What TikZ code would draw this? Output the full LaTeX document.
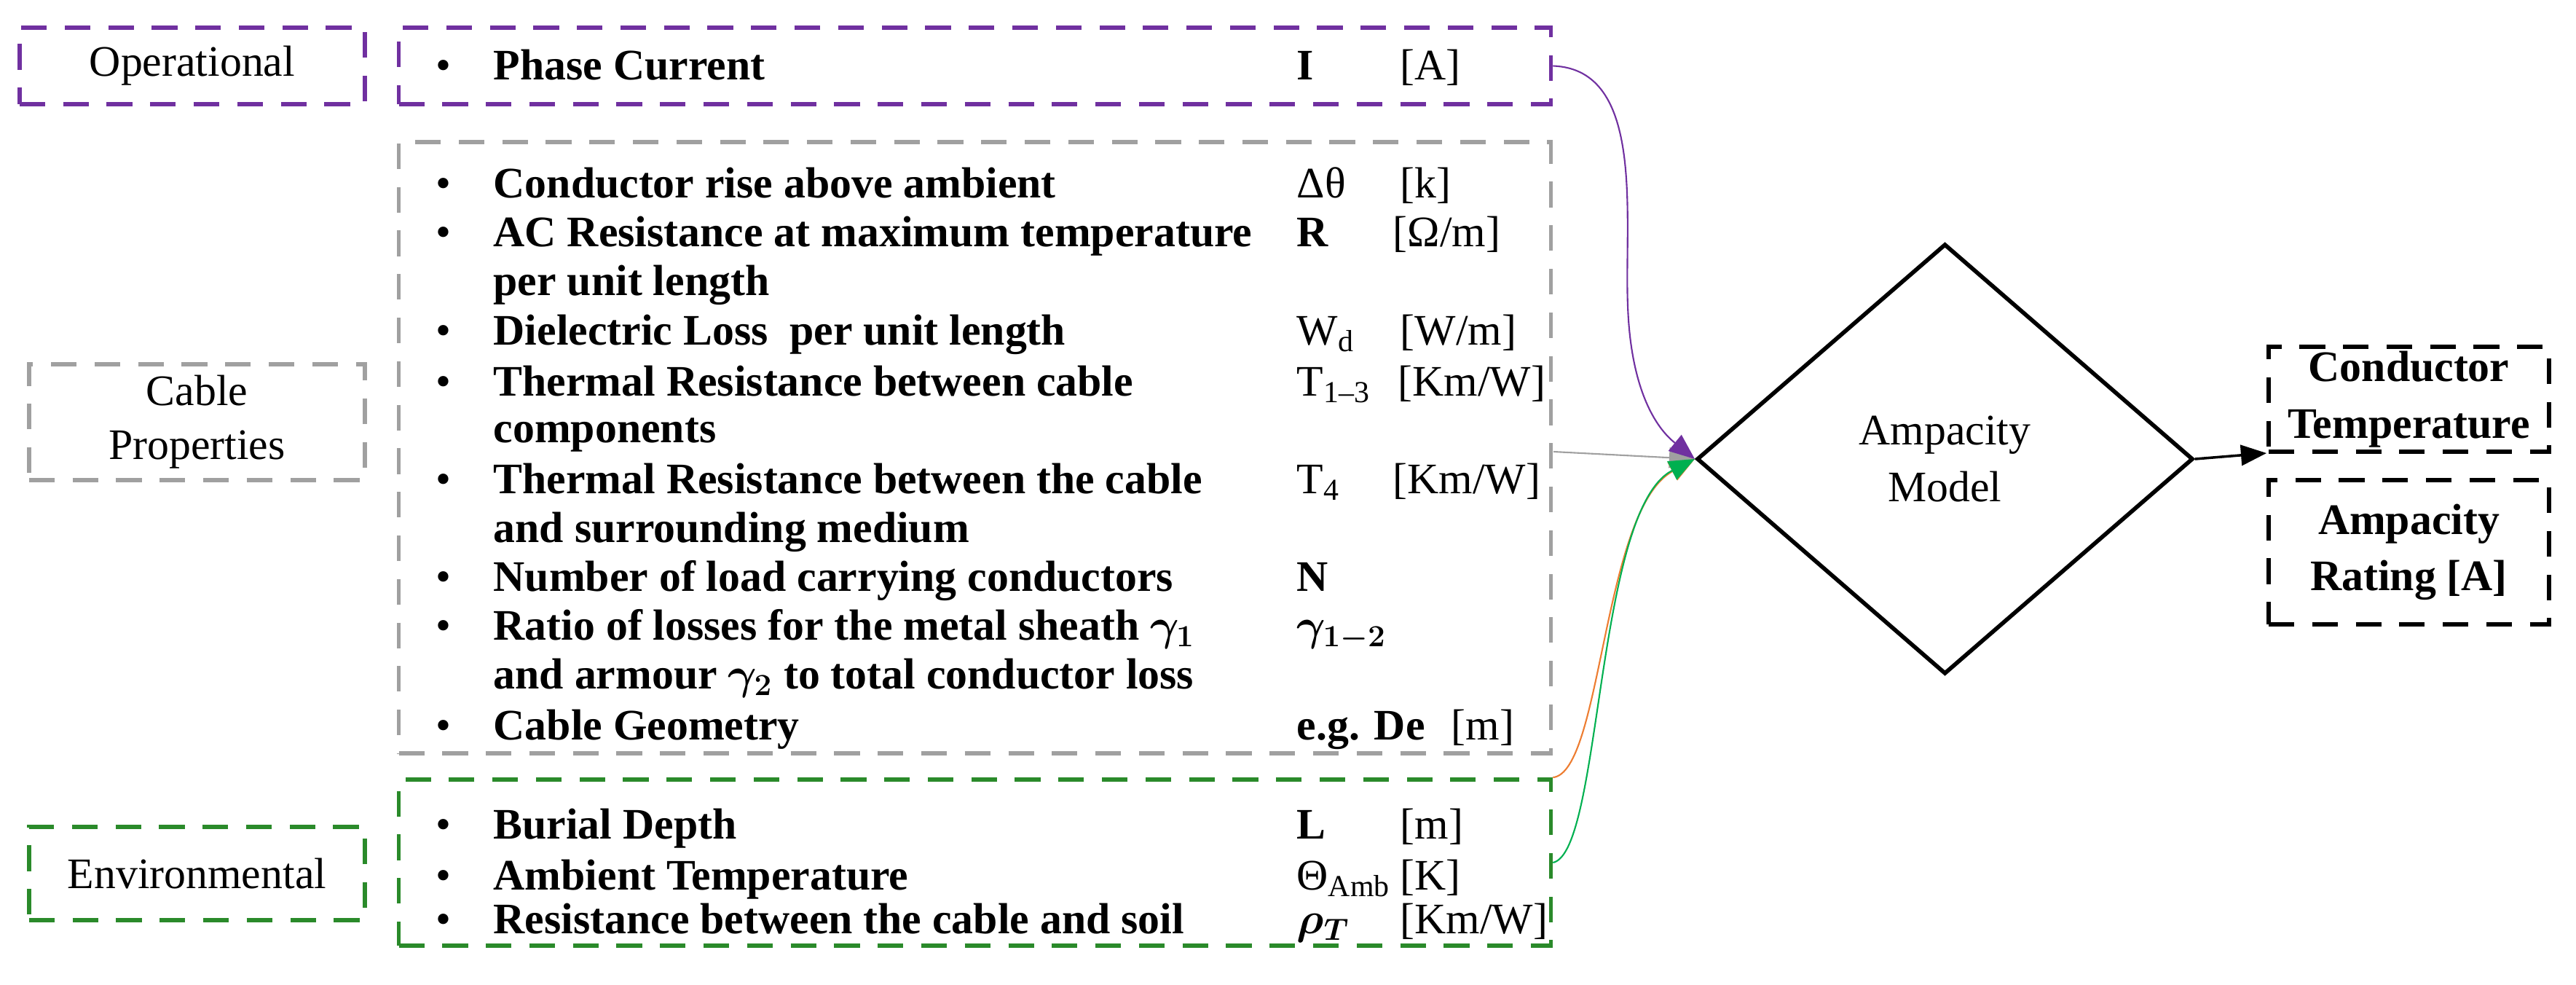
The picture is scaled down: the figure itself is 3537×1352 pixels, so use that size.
\documentclass[tikz,border=0pt]{standalone}
\usepackage{fontspec}
\usepackage{bm}
\setmainfont{Liberation Serif}
\usetikzlibrary{shapes.geometric,arrows.meta}
\definecolor{cpurple}{HTML}{7030A0}
\definecolor{cgrey}{HTML}{A0A0A0}
\definecolor{cgreen}{HTML}{2A8A2A}
\definecolor{agreen}{HTML}{00B050}
\definecolor{aorange}{HTML}{ED7D31}
\begin{document}
\begin{tikzpicture}[x=0.01cm,y=-0.01cm,
  box/.style={draw, line width=1.6pt, dash pattern=on 10pt off 7pt, inner sep=0pt},
  lbl/.style={box, align=center, font=\fontsize{17}{21}\selectfont},
  txt/.style={anchor=base west, inner sep=0pt, font=\fontsize{17}{20}\selectfont},
  bul/.style={anchor=base west, inner sep=0pt, font=\fontsize{17}{20}\selectfont},
  con/.style={line width=0.6pt},
  tip/.style={-{Triangle[length=10pt,width=8pt]}}]
\useasboundingbox (0,0) rectangle (3537,1352);
% left labels
\node[lbl, cpurple, minimum width=4.74cm, minimum height=1.05cm, text=black] (op) at (264,90.5) {Operational};
\node[lbl, cgrey, minimum width=4.61cm, minimum height=1.59cm, text=black] (cp) at (270.5,579.5) {Cable\\Properties};
\node[lbl, cgreen, minimum width=4.61cm, minimum height=1.28cm, text=black] (en) at (270.5,1199) {Environmental};
% big boxes
\node[box, cpurple, minimum width=15.81cm, minimum height=1.05cm] (ph) at (1338.5,90.5) {};
\node[box, cgrey, minimum width=15.81cm, minimum height=8.39cm] (cb) at (1338.5,614.5) {};
\node[box, cgreen, minimum width=15.81cm, minimum height=2.28cm] (ev) at (1338.5,1184) {};
% phase current
\node[bul] (b0) at (598,110) {•};
\node[txt] (t0) at (677,110) {\textbf{Phase Current}};
\node[txt] (s0) at (1780,110) {\textbf{I}};
\node[txt] (u0) at (1922,110) {[A]};
% cable properties
\foreach \y in {272,339,473,543,677,811,878,1015}{\node[bul] at (598,\y) {•};}
\node[txt] at (677,272) {\textbf{Conductor rise above ambient}};
\node[txt] at (1780,272) {Δθ};
\node[txt] at (1922,272) {[k]};
\node[txt] at (677,339) {\textbf{AC Resistance at maximum temperature}};
\node[txt] at (677,406) {\textbf{per unit length}};
\node[txt] at (1780,339) {\textbf{R}};
\node[txt] at (1912,339) {[Ω/m]};
\node[txt] at (677,473) {\textbf{Dielectric Loss\ \ per unit length}};
\node[txt] at (1780,473) {W\textsubscript{d}};
\node[txt] at (1922,473) {[W/m]};
\node[txt] at (677,543) {\textbf{Thermal Resistance between cable}};
\node[txt] at (677,607) {\textbf{components}};
\node[txt] at (1780,543) {T\textsubscript{1–3}};
\node[txt] at (1919,543) {[Km/W]};
\node[txt] at (677,677) {\textbf{Thermal Resistance between the cable}};
\node[txt] at (677,744) {\textbf{and surrounding medium}};
\node[txt] at (1780,677) {T\textsubscript{4}};
\node[txt] at (1912,677) {[Km/W]};
\node[txt] at (677,811) {\textbf{Number of load carrying conductors}};
\node[txt] at (1780,811) {\textbf{N}};
\node[txt] at (677,878) {\textbf{Ratio of losses for the metal sheath $\bm{\gamma_1}$}};
\node[txt] at (677,945) {\textbf{and armour $\bm{\gamma_2}$ to total conductor loss}};
\node[txt] at (1780,878) {$\bm{\gamma_{1-2}}$};
\node[txt] at (677,1015) {\textbf{Cable Geometry}};
\node[txt] at (1780,1015) {\textbf{e.g. De}};
\node[txt] at (1992,1015) {[m]};
% environmental
\foreach \y in {1151,1221,1281}{\node[bul] at (598,\y) {•};}
\node[txt] at (677,1151) {\textbf{Burial Depth}};
\node[txt] at (1780,1151) {\textbf{L}};
\node[txt] at (1922,1151) {[m]};
\node[txt] at (677,1221) {\textbf{Ambient Temperature}};
\node[txt] at (1780,1221) {Θ\textsubscript{Amb}};
\node[txt] at (1922,1221) {[K]};
\node[txt] at (677,1281) {\textbf{Resistance between the cable and soil}};
\node[txt] at (1780,1281) {$\bm{\rho_T}$};
\node[txt] at (1922,1281) {[Km/W]};
% diamond
\node[draw, diamond, line width=1.6pt, minimum width=6.81cm, minimum height=5.9cm, inner sep=0pt, align=center, font=\fontsize{17}{22}\selectfont] (dia) at (2670.5,630) {Ampacity\\Model};
% outputs
\node[box, black, minimum width=3.85cm, minimum height=1.44cm, align=center, font=\bfseries\fontsize{17}{22}\selectfont] (ct) at (3307.5,548) {Conductor\\Temperature};
\node[box, black, minimum width=3.85cm, minimum height=1.98cm, align=center, font=\bfseries\fontsize{17}{22}\selectfont] (ar) at (3307.5,758) {Ampacity\\Rating [A]};
% connectors
\coordinate (gs) at (2133,620);
\draw[con, cgrey, tip] (gs) -- (dia.west);
\draw[con, cpurple, tip] (ph.east) .. controls (2260,95) and (2230,300) .. (2235,420) .. controls (2240,560) and (2290,600) .. (dia.west);
\draw[con, aorange, tip] (ev.north east) .. controls (2200,1060) and (2200,700) .. (dia.west);
\draw[con, agreen, tip] (ev.east) .. controls (2200,1170) and (2190,700) .. (dia.west);
\draw[line width=1pt, tip] (dia.east) -- (ct.south west |- 0,622);
\end{tikzpicture}
\end{document}
